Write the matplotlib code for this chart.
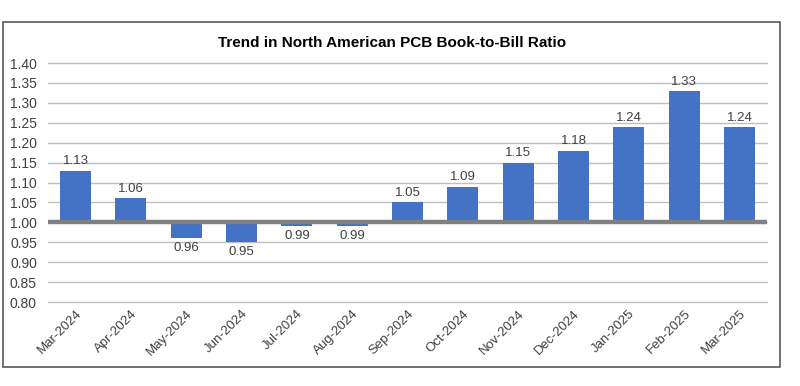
import matplotlib.pyplot as plt
from matplotlib.patches import Rectangle

plt.rcParams['font.family'] = ['Liberation Sans', 'DejaVu Sans']

# données
mois = ["Mar-2024", "Apr-2024", "May-2024", "Jun-2024", "Jul-2024", "Aug-2024",
        "Sep-2024", "Oct-2024", "Nov-2024", "Dec-2024", "Jan-2025", "Feb-2025", "Mar-2025"]
ratio = [1.13, 1.06, 0.96, 0.95, 0.99, 0.99, 1.05, 1.09, 1.15, 1.18, 1.24, 1.33, 1.24]
yticks = [0.80, 0.85, 0.90, 0.95, 1.00, 1.05, 1.10, 1.15, 1.20, 1.25, 1.30, 1.35, 1.40]
base = 1.0

fig = plt.figure(figsize=(8, 3.86), dpi=100)
ax = fig.add_axes([0.06, 0.2176, 0.899, 0.619])

# cadre autour du graphique
fig.patches.append(Rectangle((3/800, 19/386), 777/800, 345/386, transform=fig.transFigure,
                             fill=False, edgecolor='#595959', linewidth=1.2))

x = range(len(mois))
hauteurs = [r - base for r in ratio]
ax.bar(x, hauteurs, bottom=base, width=0.56, color='#4472C4', zorder=3)

for i, r in enumerate(ratio):
    if r >= base:
        ax.text(i, r + 0.008, f"{r:.2f}", ha='center', va='bottom', fontsize=9.5, color='#404040')
    else:
        ax.text(i, r - 0.01, f"{r:.2f}", ha='center', va='top', fontsize=9.5, color='#404040')

ax.axhline(base, color='#808080', linewidth=3.2, zorder=4)

ax.set_ylim(0.80, 1.40)
ax.set_xlim(-0.5, len(mois) - 0.5)
ax.set_yticks(yticks)
ax.set_yticklabels([f"{v:.2f}" for v in yticks], fontsize=10, color='#404040')
ax.set_xticks(list(x))
ax.set_xticklabels(mois, rotation=45, ha='right', rotation_mode='anchor', fontsize=9.5, color='#404040')
ax.tick_params(length=0, pad=8)
ax.tick_params(axis='x', pad=4)
ax.grid(axis='y', color='#BFBFBF', linewidth=1, zorder=0)
for ligne in ax.get_ygridlines():
    ligne.set_clip_on(False)
for s in ax.spines.values():
    s.set_visible(False)

fig.text(0.49, 0.888, "Trend in North American PCB Book-to-Bill Ratio", ha='center', va='center',
         fontsize=11, fontweight='bold', color='#000000')

plt.savefig("out.png", dpi=100)
